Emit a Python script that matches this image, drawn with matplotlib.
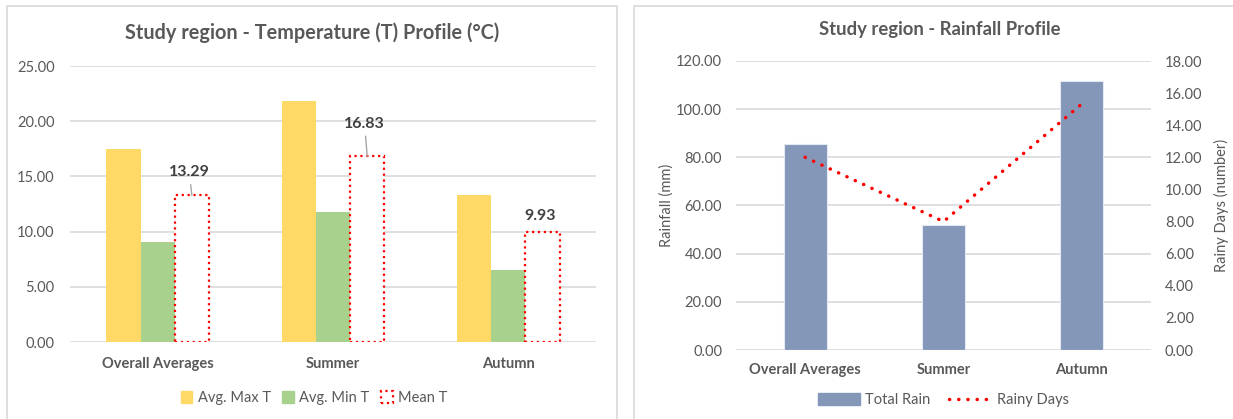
import numpy as np
import matplotlib.pyplot as plt
from matplotlib.patches import Rectangle, Patch
from matplotlib.lines import Line2D

plt.rcParams['font.family'] = ['Lato', 'DejaVu Sans']

# Data
categories = ['Overall Averages', 'Summer', 'Autumn']
max_t = [17.45, 21.85, 13.35]
min_t = [9.05, 11.75, 6.55]
mean_t = [13.29, 16.83, 9.93]
total_rain = [85.4, 51.7, 111.8]
rainy_days = [12.0, 8.0, 15.33]

# label offsets above the Mean T bars (data units) and whether to draw a leader line
label_lift = [2.1, 2.95, 1.45]
leader = [True, True, False]

TXT = '#595959'
GRID = '#D9D9D9'
W, H = 1233, 419

fig = plt.figure(figsize=(W / 100, H / 100), dpi=100)


def px_axes(x0, x1, ytop, ybot):
    return fig.add_axes([x0 / W, (H - ybot) / H, (x1 - x0) / W, (ybot - ytop) / H])


def style_axes(ax):
    for s in ax.spines.values():
        s.set_visible(False)
    ax.tick_params(length=0, colors=TXT, labelsize=10.5)
    ax.grid(axis='y', color=GRID, linewidth=1.2)
    ax.set_axisbelow(True)


# chart area borders
fig.patches.append(Rectangle((7 / W, -0.05), 610 / W, (H - 6) / H + 0.05,
                             transform=fig.transFigure, fill=False,
                             edgecolor=GRID, linewidth=1.2))
fig.patches.append(Rectangle((634 / W, -0.05), 620 / W, (H - 6) / H + 0.05,
                             transform=fig.transFigure, fill=False,
                             edgecolor=GRID, linewidth=1.2))

# ---- Temperature profile ----
ax = px_axes(70, 596, 66, 342)
style_axes(ax)
x = np.arange(len(categories))
bw = 0.195
ax.bar(x - bw, max_t, bw, color='#FFD966', label='Avg. Max T')
ax.bar(x, min_t, bw, color='#A9D18E', label='Avg. Min T')
ax.bar(x + bw, mean_t, bw, facecolor='white', edgecolor='#FF0000',
       linestyle=':', linewidth=1.6, label='Mean T')
for xi, v, lift, ll in zip(x + bw, mean_t, label_lift, leader):
    props = dict(arrowstyle='-', color='#A6A6A6', lw=1, shrinkA=2, shrinkB=0) if ll else None
    ax.annotate(f'{v:.2f}', xy=(xi, v), xytext=(xi - 0.015, v + lift),
                ha='center', va='center', fontsize=11.5, fontweight='bold',
                color='#404040', arrowprops=props)
ax.set_ylim(0, 25)
ax.set_yticks(np.arange(0, 26, 5))
ax.yaxis.set_major_formatter(lambda v, p: f'{v:.2f}')
ax.set_xlim(-0.5, 2.5)
ax.set_xticks(x)
ax.set_xticklabels(categories, fontweight='bold', fontsize=10.5)
ax.tick_params(axis='x', pad=11)
ax.tick_params(axis='y', pad=11)
fig.text(312 / W, (H - 33) / H, 'Study region - Temperature (T) Profile (\u00b0C)',
         ha='center', va='center', fontsize=14.3, fontweight='bold', color=TXT)
h1 = [Patch(color='#FFD966'), Patch(color='#A9D18E'),
      Patch(facecolor='white', edgecolor='#FF0000', linestyle=':', linewidth=1.6)]
fig.legend(h1, ['Avg. Max T', 'Avg. Min T', 'Mean T'], loc='center',
           bbox_to_anchor=(314 / W, (H - 398) / H), ncol=3, frameon=False,
           handlelength=0.8, handleheight=0.8, handletextpad=0.35,
           columnspacing=0.8, fontsize=10.5, labelcolor=TXT)

# ---- Rainfall profile ----
ax = px_axes(736, 1151, 61, 350)
style_axes(ax)
rb = 0.31
ax.bar(x, total_rain, rb, color='#8497B9', edgecolor='#E4E8F0', linewidth=0.8)
ax.set_ylim(0, 120)
ax.set_yticks(np.arange(0, 121, 20))
ax.yaxis.set_major_formatter(lambda v, p: f'{v:.2f}')
ax.set_xlim(-0.5, 2.5)
ax.set_xticks(x)
ax.set_xticklabels(categories, fontweight='bold', fontsize=10.5)
ax.tick_params(axis='x', pad=9)
ax.tick_params(axis='y', pad=10)
ax.set_ylabel('Rainfall (mm)', color=TXT, fontsize=10.5, labelpad=2)

ax2 = ax.twinx()
for s in ax2.spines.values():
    s.set_visible(False)
ax2.plot(x, rainy_days, color='#FF0000', linewidth=2.5,
         linestyle=(0, (0.05, 2.6)), dash_capstyle='round')
ax2.set_ylim(0, 18)
ax2.set_yticks(np.arange(0, 19, 2))
ax2.yaxis.set_major_formatter(lambda v, p: f'{v:.2f}')
ax2.tick_params(length=0, colors=TXT, labelsize=10.5, pad=10)
ax2.set_ylabel('Rainy Days (number)', color=TXT, fontsize=10.5, labelpad=8)

fig.text(940 / W, (H - 30) / H, 'Study region - Rainfall Profile',
         ha='center', va='center', fontsize=13.3, fontweight='bold', color=TXT)
h2 = [Patch(color='#8497B9'),
      Line2D([], [], color='#FF0000', linewidth=2.5, linestyle=(0, (0.05, 2.6)),
             dash_capstyle='round')]
fig.legend(h2, ['Total Rain', 'Rainy Days'], loc='center',
           bbox_to_anchor=(943 / W, (H - 400) / H), ncol=2, frameon=False,
           handlelength=2.9, handleheight=0.8, handletextpad=0.35,
           columnspacing=1.3, fontsize=10.5, labelcolor=TXT)

fig.savefig('out.png', dpi=100, facecolor='white')
